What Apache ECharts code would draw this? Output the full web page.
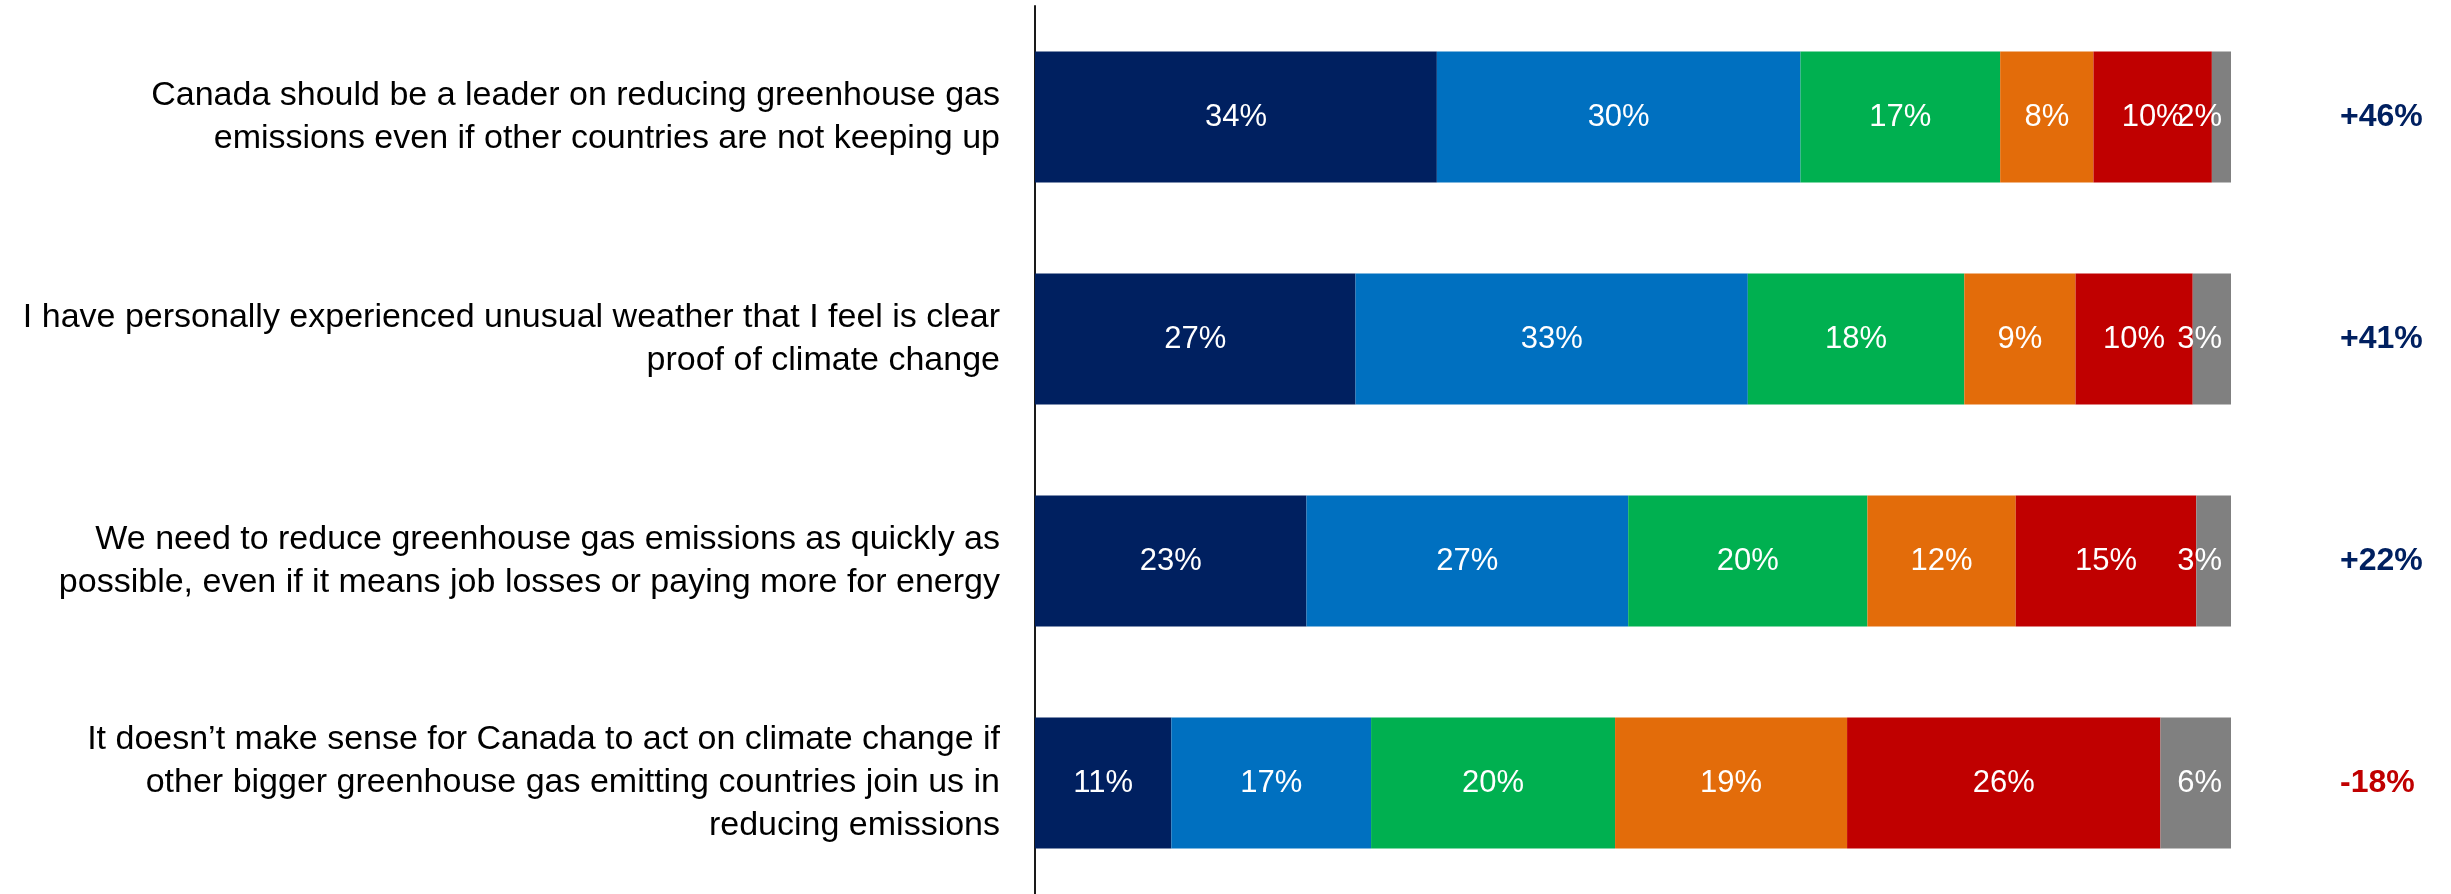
<!DOCTYPE html>
<html>
<head>
<meta charset="utf-8">
<script src="https://cdn.jsdelivr.net/npm/echarts@6/dist/echarts.min.js"></script>
<style>
html,body{margin:0;padding:0;background:#fff;}
#chart{width:2451px;height:894px;}
</style>
</head>
<body>
<div id="chart"></div>
<script>
const categories = [
  'Canada should be a leader on reducing greenhouse gas\nemissions even if other countries are not keeping up',
  'I have personally experienced unusual weather that I feel is clear\nproof of climate change',
  'We need to reduce greenhouse gas emissions as quickly as\npossible, even if it means job losses or paying more for energy',
  'It doesn\u2019t make sense for Canada to act on climate change if\nother bigger greenhouse gas emitting countries join us in\nreducing emissions'
];
const seriesNames = ['Strongly agree', 'Somewhat agree', 'Neither', 'Somewhat disagree', 'Strongly disagree', 'Don\u2019t know'];
const seriesColors = ['#002060', '#0070C0', '#00B050', '#E36C0A', '#C00000', '#808080'];
const s1 = [33.6, 26.8, 22.7, 11.4];
const s2 = [30.4, 32.8, 26.9, 16.7];
const s3 = [16.7, 18.1, 20.0, 20.4];
const s4 = [7.8, 9.3, 12.4, 19.4];
const s5 = [9.9, 9.8, 15.1, 26.2];
const s6 = [1.6, 3.2, 2.9, 5.9];
const netLabels = ['+46%', '+41%', '+22%', '-18%'];

const seriesData = [s1, s2, s3, s4, s5, s6];
const FONT = '"Liberation Sans", Arial, sans-serif';

const chart = echarts.init(document.getElementById('chart'), null, {renderer: 'canvas'});
chart.setOption({
  animation: false,
  backgroundColor: '#ffffff',
  grid: {left: 1035, right: 220, top: 6, height: 893, containLabel: false},
  xAxis: {type: 'value', min: 0, max: 100, show: false},
  yAxis: [
    {
      type: 'category', inverse: true, data: categories,
      axisLine: {show: true, lineStyle: {color: '#1a1a1a', width: 2}},
      axisTick: {show: false},
      axisLabel: {
        margin: 35, align: 'right', color: '#000000',
        fontFamily: FONT, fontSize: 34, lineHeight: 43
      }
    },
    {
      type: 'category', inverse: true, position: 'right', data: netLabels,
      axisLine: {show: false}, axisTick: {show: false},
      axisLabel: {
        margin: 109, align: 'left',
        formatter: function (v) { return v.charAt(0) === '-' ? '{neg|' + v + '}' : '{pos|' + v + '}'; },
        rich: {
          pos: {color: '#002060', fontWeight: 'bold', fontFamily: FONT, fontSize: 32},
          neg: {color: '#C00000', fontWeight: 'bold', fontFamily: FONT, fontSize: 32}
        }
      }
    }
  ],
  series: seriesData.map(function (d, i) {
    return {
      name: seriesNames[i],
      type: 'bar', stack: 'total', yAxisIndex: 0,
      barCategoryGap: '41%',
      data: d,
      itemStyle: {color: seriesColors[i]},
      label: {
        show: true,
        position: i === seriesData.length - 1 ? 'insideRight' : 'inside',
        distance: 9,
        color: '#ffffff', fontFamily: FONT, fontSize: 31,
        formatter: function (p) { return Math.round(p.value) + '%'; }
      }
    };
  })
});
</script>
</body>
</html>
